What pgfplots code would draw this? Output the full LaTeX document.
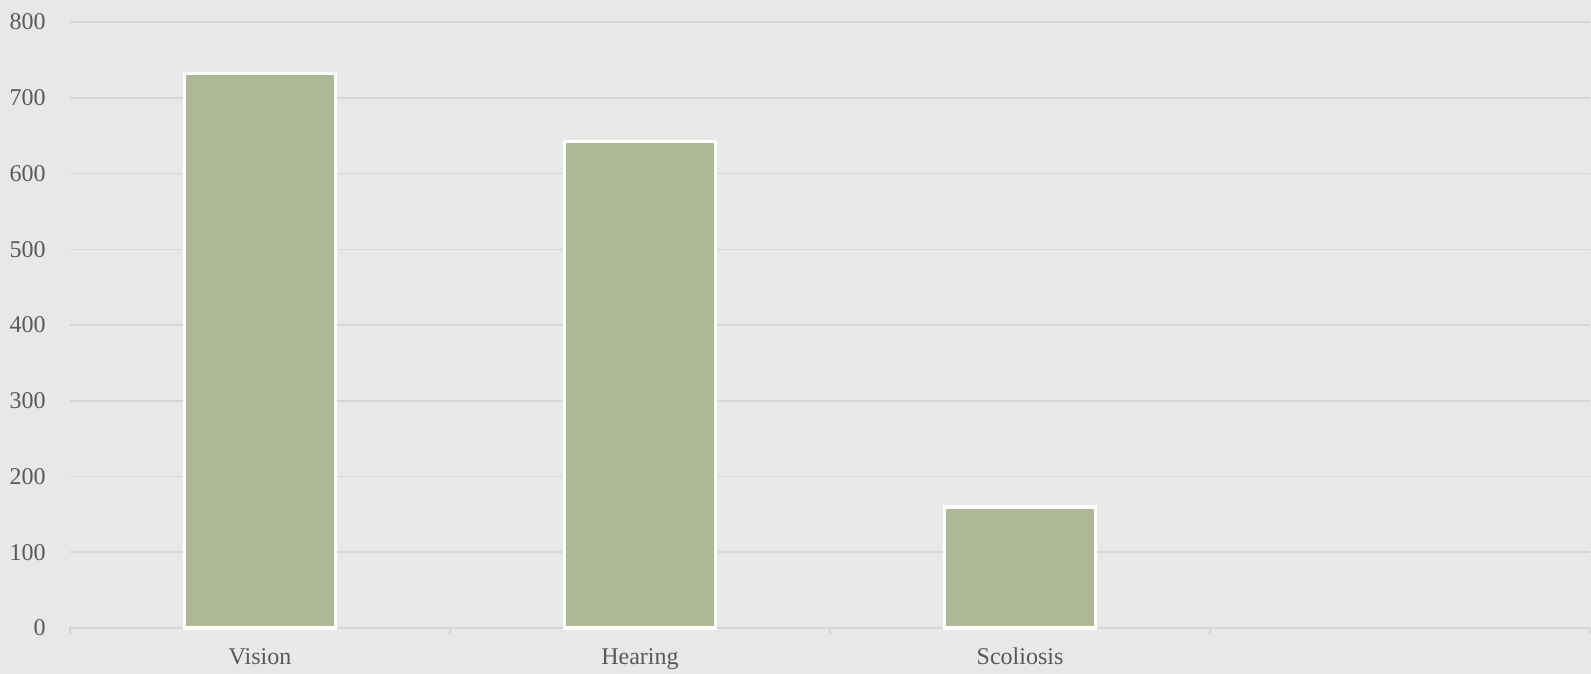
\documentclass[border=0pt]{standalone}
\usepackage{pgfplots}
\pgfplotsset{compat=1.18}
\usepackage{fontspec}
\setmainfont{Liberation Serif}
\definecolor{bg}{HTML}{E8E8E8}
\definecolor{gridc}{HTML}{D6D6D6}
\definecolor{barc}{HTML}{ADB895}
\definecolor{txt}{HTML}{595959}
\begin{document}
\begin{tikzpicture}
\fill[bg] (0,0) rectangle (795.5pt,337pt);
\begin{axis}[
  at={(35pt,23pt)}, anchor=south west,
  scale only axis, width=760pt, height=303pt,
  xmin=-0.5, xmax=3.5, ymin=0, ymax=800,
  ytick={0,100,...,800},
  ymajorgrids, grid style={draw=gridc, line width=0.75pt},
  axis x line*=bottom, axis y line*=left,
  x axis line style={draw=gridc, line width=0.75pt, -},
  y axis line style={draw=none},
  ytick style={draw=none},
  xtick={0,1,2,3}, xticklabels={Vision,Hearing,Scoliosis,{}},
  xtick style={draw=none},
  extra x ticks={-0.5,0.5,1.5,2.5,3.5}, extra x tick labels={},
  extra x tick style={xtick style={draw=gridc, line width=0.75pt}, major tick length=3pt, tick align=outside, grid=none},
  /pgf/number format/assume math mode=true,
  ticklabel style={font=\fontsize{12}{14}\selectfont, text=txt},
  yticklabel style={anchor=east, inner sep=0pt, xshift=-12pt},
  xticklabel style={anchor=base, inner sep=0pt, yshift=-18.5pt},
  clip=false,
]
\addplot[ybar, bar width=75.5pt, fill=barc, draw=white, line width=1.75pt] coordinates {(0,732) (1,642) (2,160)};
\end{axis}
\pgfresetboundingbox
\useasboundingbox (0,0) rectangle (795.5pt,337pt);
\end{tikzpicture}
\end{document}
